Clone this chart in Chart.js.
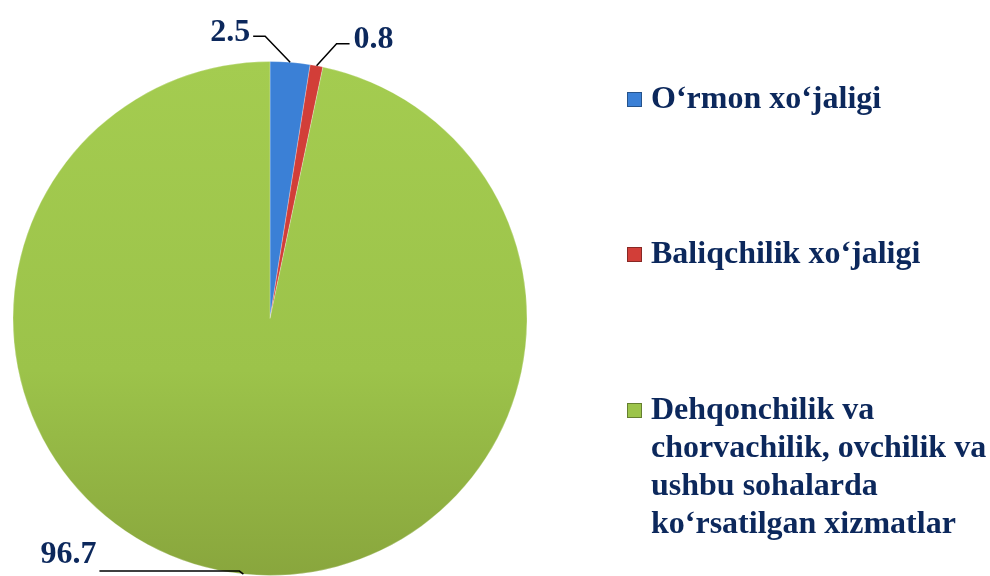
<!DOCTYPE html>
<html>
<head>
<meta charset="utf-8">
<script src="https://cdn.jsdelivr.net/npm/chart.js@4.4.1/dist/chart.umd.min.js"></script>
<style>
  html, body { margin: 0; padding: 0; background: #fff; }
  #wrap { width: 990px; height: 576px; }
</style>
</head>
<body>
<div id="wrap"><canvas id="pie"></canvas></div>
<script>
// données du graphique
const categories = [
  'O‘rmon xo‘jaligi',
  'Baliqchilik xo‘jaligi',
  'Dehqonchilik va chorvachilik, ovchilik va ushbu sohalarda ko‘rsatilgan xizmatlar'
];
const values = [2.5, 0.8, 96.7];
const valueLabels = ['2.5', '0.8', '96.7'];
const sliceColors = ['#3b80d6', '#d23e38', '#9cc44a'];

const textColor = '#0c285c';
const fontFamily = '"Liberation Serif", "Times New Roman", serif';

// dégradé vertical pour la grande part verte
function sliceColor(ctx) {
  const i = ctx.dataIndex;
  const area = ctx.chart.chartArea;
  if (i !== 2 || !area) return sliceColors[i];
  const g = ctx.chart.ctx.createLinearGradient(0, area.top, 0, area.bottom);
  g.addColorStop(0, '#a4cc50');
  g.addColorStop(0.6, '#9cc34a');
  g.addColorStop(1, '#89a63d');
  return g;
}

// étiquettes de valeurs avec lignes de rappel
const valueLabelPlugin = {
  id: 'valueLabels',
  afterDatasetsDraw(chart) {
    const ctx = chart.ctx;
    const meta = chart.getDatasetMeta(0);
    // décalage du coude et longueur du trait horizontal
    const legs = [
      { dx: -25, dy: -26, hx: -12, side: 'left' },
      { dx: 20, dy: -22, hx: 13, side: 'right' },
      { dx: -4, dy: -3, hx: -140, side: 'left', textDy: -12 }
    ];
    ctx.save();
    ctx.strokeStyle = '#000';
    ctx.lineWidth = 1.5;
    ctx.font = 'bold 32px ' + fontFamily;
    ctx.fillStyle = textColor;
    ctx.textBaseline = 'middle';
    meta.data.forEach((arc, i) => {
      const p = arc.getProps(['x', 'y', 'startAngle', 'endAngle', 'outerRadius'], true);
      const mid = (p.startAngle + p.endAngle) / 2;
      const ax = p.x + Math.cos(mid) * p.outerRadius;
      const ay = p.y + Math.sin(mid) * p.outerRadius;
      const l = legs[i];
      const ex = ax + l.dx, ey = ay + l.dy;
      const hx = ex + l.hx;
      ctx.beginPath();
      ctx.moveTo(ax, ay);
      ctx.lineTo(ex, ey);
      ctx.lineTo(hx, ey);
      ctx.stroke();
      const ty = ey - 4 + (l.textDy || 0);
      if (l.side === 'left') {
        ctx.textAlign = 'right';
        ctx.fillText(valueLabels[i], hx - 3, ty);
      } else {
        ctx.textAlign = 'left';
        ctx.fillText(valueLabels[i], hx + 4, ty);
      }
    });
    ctx.restore();
  }
};

// légende à droite, avec retour à la ligne
const sideLegendPlugin = {
  id: 'sideLegend',
  afterDraw(chart) {
    const ctx = chart.ctx;
    const x0 = 627, textX = 651, maxW = 340, lineH = 38;
    const tops = [100, 255, 411];
    ctx.save();
    ctx.font = 'bold 32px ' + fontFamily;
    ctx.textBaseline = 'middle';
    ctx.textAlign = 'left';
    chart.data.labels.forEach((label, i) => {
      // découper le texte en lignes
      const words = label.split(' ');
      const lines = [];
      let cur = '';
      words.forEach(w => {
        const test = cur ? cur + ' ' + w : w;
        if (ctx.measureText(test).width > maxW && cur) {
          lines.push(cur);
          cur = w;
        } else {
          cur = test;
        }
      });
      lines.push(cur);

      const y = tops[i];
      // petit carré
      ctx.fillStyle = sliceColors[i];
      ctx.fillRect(x0, y - 8, 15, 15);
      ctx.strokeStyle = 'rgba(0,0,0,0.35)';
      ctx.lineWidth = 1;
      ctx.strokeRect(x0 + 0.5, y - 7.5, 14, 14);

      ctx.fillStyle = textColor;
      lines.forEach((ln, k) => ctx.fillText(ln, textX, y + k * lineH));
    });
    ctx.restore();
  }
};

new Chart(document.getElementById('pie'), {
  type: 'pie',
  data: {
    labels: categories,
    datasets: [{
      data: values,
      backgroundColor: sliceColor,
      borderColor: 'rgba(255,255,255,0.25)',
      borderWidth: 1
    }]
  },
  options: {
    responsive: true,
    maintainAspectRatio: false,
    animation: false,
    layout: { padding: { left: 12, top: 61, right: 462, bottom: 0 } },
    plugins: {
      legend: { display: false },
      tooltip: { enabled: false }
    }
  },
  plugins: [valueLabelPlugin, sideLegendPlugin]
});
</script>
</body>
</html>
